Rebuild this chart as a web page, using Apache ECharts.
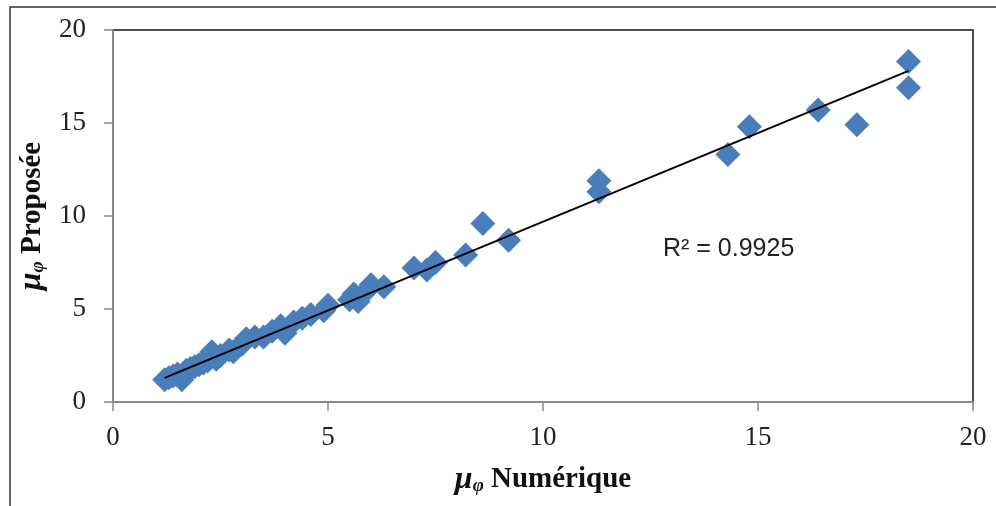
<!DOCTYPE html>
<html>
<head>
<meta charset="utf-8">
<script src="https://cdn.jsdelivr.net/npm/echarts@6/dist/echarts.min.js"></script>
<style>
  html, body { margin: 0; padding: 0; background: #fff; }
  #main { width: 996px; height: 506px; }
</style>
</head>
<body>
<div id="main"></div>
<script>
// valeurs
var numX = [1.2, 1.3, 1.4, 1.5, 1.6, 1.7, 1.8, 1.9, 2.0, 2.1, 2.2, 2.3, 2.4, 2.5, 2.7, 2.8,
    3.0, 3.1, 3.3, 3.5, 3.7, 3.9, 4.0, 4.2, 4.4, 4.6, 4.9, 5.0, 5.5, 5.6, 5.7, 5.9, 6.0, 6.3,
    7.0, 7.3, 7.5, 8.2, 8.6, 9.2, 11.3, 11.3, 14.3, 14.8, 16.4, 17.3, 18.5, 18.5];
var propY = [1.2, 1.3, 1.4, 1.5, 1.2, 1.7, 1.8, 1.9, 2.0, 2.1, 2.2, 2.7, 2.3, 2.5, 2.8, 2.7,
    3.1, 3.4, 3.5, 3.5, 3.8, 4.1, 3.7, 4.3, 4.5, 4.7, 4.9, 5.2, 5.5, 5.8, 5.4, 6.0, 6.3, 6.2,
    7.2, 7.1, 7.5, 7.9, 9.6, 8.7, 11.9, 11.3, 13.3, 14.8, 15.7, 14.9, 18.3, 16.9];
var trendX = [1.2, 18.5];
var trendY = [1.3, 17.8];
var axisTicks = [0, 5, 10, 15, 20];
var r2Label = 'R² = 0.9925';

var points = [];
for (var i = 0; i < numX.length; i++) {
    points.push([numX[i], propY[i]]);
}
var trend = [];
for (var j = 0; j < trendX.length; j++) {
    trend.push([trendX[j], trendY[j]]);
}

var chart = echarts.init(document.getElementById('main'));
var labelStyle = {
    fontFamily: 'Liberation Serif',
    fontSize: 27,
    color: '#222'
};
var nameRich = {
    mu: {fontFamily: 'Liberation Serif', fontStyle: 'italic', fontWeight: 'bold', fontSize: 32, color: '#111'},
    phi: {fontFamily: 'Liberation Serif', fontStyle: 'italic', fontWeight: 'bold', fontSize: 19, color: '#111', padding: [12, 0, 0, 0]},
    txt: {fontFamily: 'Liberation Serif', fontWeight: 'bold', fontSize: 29, color: '#111'}
};

chart.setOption({
    animation: false,
    grid: {
        left: 113, right: 23, top: 30, bottom: 104,
        show: true, borderColor: '#111', borderWidth: 1.5
    },
    graphic: [{
        type: 'rect',
        shape: {x: 10, y: 7, width: 1100, height: 600},
        style: {fill: 'none', stroke: '#333', lineWidth: 1.5},
        silent: true
    }, {
        type: 'text',
        left: 663, top: 237,
        style: {text: r2Label, fontFamily: 'Liberation Sans', fontSize: 25, fill: '#222'}
    }],
    xAxis: {
        type: 'value', min: 0, max: 20, interval: 5,
        axisLine: {show: true, lineStyle: {color: '#888', width: 2}},
        axisTick: {show: true, length: 9, lineStyle: {color: '#888', width: 1.5}},
        axisLabel: Object.assign({margin: 22, formatter: function (v) {
            return axisTicks.indexOf(v) >= 0 ? String(v) : '';
        }}, labelStyle),
        splitLine: {show: false},
        name: '{mu|μ}{phi|φ}{txt| Numérique}',
        nameLocation: 'middle', nameGap: 62,
        nameTextStyle: {rich: nameRich}
    },
    yAxis: {
        type: 'value', min: 0, max: 20, interval: 5,
        axisLine: {show: true, lineStyle: {color: '#888', width: 2}},
        axisTick: {show: true, length: 9, lineStyle: {color: '#888', width: 1.5}},
        axisLabel: Object.assign({margin: 27}, labelStyle),
        splitLine: {show: false},
        name: '{mu|μ}{phi|φ}{txt| Proposée}',
        nameLocation: 'middle', nameGap: 62, nameRotate: 90,
        nameTextStyle: {rich: nameRich}
    },
    series: [{
        type: 'scatter',
        data: points,
        symbol: 'diamond',
        symbolSize: 25,
        itemStyle: {color: '#4A7EBB', opacity: 1}
    }, {
        type: 'line',
        data: trend,
        symbol: 'none',
        lineStyle: {color: '#000', width: 2},
        z: 3
    }]
});
</script>
</body>
</html>
